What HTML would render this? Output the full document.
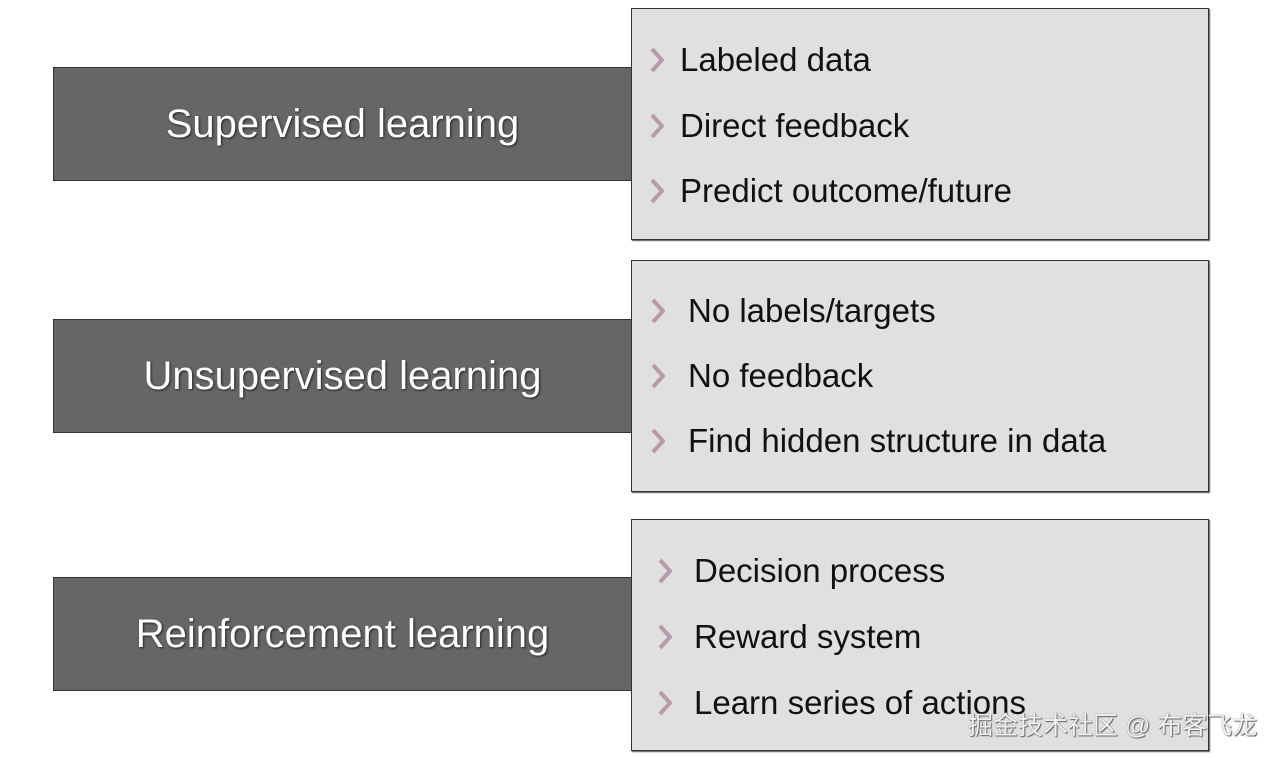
<!DOCTYPE html>
<html><head><meta charset="utf-8"><style>
body{margin:0;width:1275px;height:758px;background:#fff;position:relative;overflow:hidden;font-family:"Liberation Sans",sans-serif}
.l{position:absolute;left:53px;width:577px;height:112px;background:#666;border:1px solid #333;color:#fff;font-size:40px;display:flex;align-items:center;justify-content:center;text-shadow:1px 1px 2px #222}
.r{position:absolute;left:631px;width:576px;height:230px;background:#e0e0e0;border:1px solid #333;box-shadow:1px 1px 1px #555}
.i{position:absolute;font-size:33px;color:#111;white-space:nowrap;line-height:40px}
.c{position:absolute;width:14px;height:26px}
.w{position:absolute;left:968px;top:706px;font-family:"Liberation Sans","Noto Sans CJK SC",sans-serif;font-size:25px;color:#f4f4f4;text-shadow:0 0 1px #555,1px 1px 1px #666;white-space:nowrap}
</style></head><body>
<div class="r" style="top:8px"></div>
<div class="r" style="top:260px"></div>
<div class="r" style="top:519px"></div>
<div class="l" style="top:67px">Supervised learning</div>
<div class="l" style="top:319px">Unsupervised learning</div>
<div class="l" style="top:577px">Reinforcement learning</div>

<svg width="0" height="0" style="position:absolute"><defs><symbol id="ch" viewBox="0 0 14 26"><path d="M2 2 L12 13 L2 24" fill="none" stroke="#b89aa8" stroke-width="4"/></symbol></defs></svg>

<svg class="c" style="left:650px;top:47px"><use href="#ch"/></svg><div class="i" style="left:680px;top:40px">Labeled data</div>
<svg class="c" style="left:650px;top:113px"><use href="#ch"/></svg><div class="i" style="left:680px;top:106px">Direct feedback</div>
<svg class="c" style="left:650px;top:178px"><use href="#ch"/></svg><div class="i" style="left:680px;top:171px">Predict outcome/future</div>

<svg class="c" style="left:651px;top:298px"><use href="#ch"/></svg><div class="i" style="left:688px;top:291px">No labels/targets</div>
<svg class="c" style="left:651px;top:363px"><use href="#ch"/></svg><div class="i" style="left:688px;top:356px">No feedback</div>
<svg class="c" style="left:651px;top:428px"><use href="#ch"/></svg><div class="i" style="left:688px;top:421px">Find hidden structure in data</div>

<svg class="c" style="left:658px;top:558px"><use href="#ch"/></svg><div class="i" style="left:694px;top:551px">Decision process</div>
<svg class="c" style="left:658px;top:624px"><use href="#ch"/></svg><div class="i" style="left:694px;top:617px">Reward system</div>
<svg class="c" style="left:658px;top:690px"><use href="#ch"/></svg><div class="i" style="left:694px;top:683px">Learn series of actions</div>
<div class="w">掘金技术社区 @ 布客飞龙</div>
</body></html>
